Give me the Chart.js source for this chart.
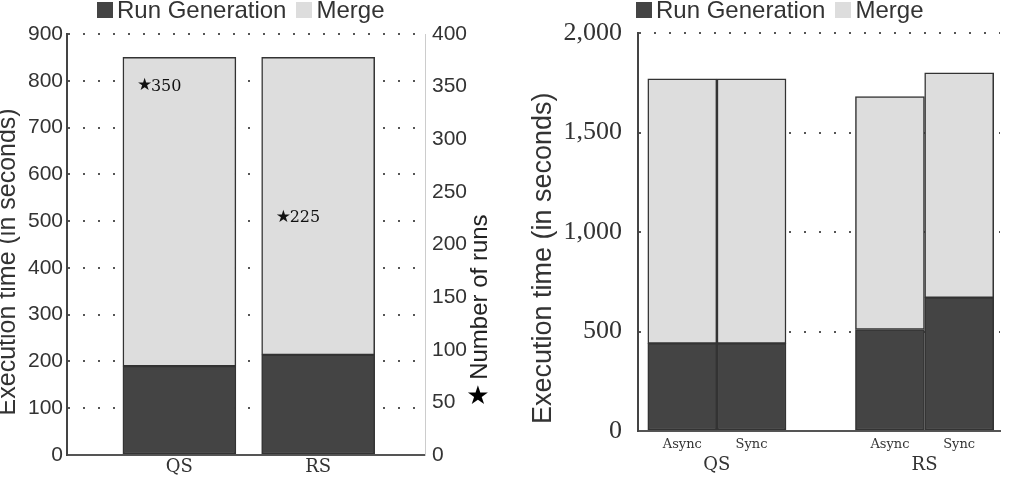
<!DOCTYPE html>
<html>
<head>
<meta charset="utf-8">
<script src="https://cdn.jsdelivr.net/npm/chart.js@4.4.1/dist/chart.umd.min.js"></script>
<style>
  html, body { margin: 0; padding: 0; background: #fff; }
  body { width: 1009px; height: 498px; position: relative; overflow: hidden; }
  canvas { position: absolute; top: 0; }
  #chartL { left: 0; }
  #chartR { left: 505px; }
  .legend { position: absolute; top: -2px; font: 24px "Liberation Sans", Arial, sans-serif; line-height: 24px; color: #333; white-space: nowrap; }
  .legend .item { margin-right: 10px; }
  .legend .box { display: inline-block; width: 16px; height: 16px; margin-right: 4px; }
</style>
</head>
<body>
<canvas id="chartL" width="505" height="498"></canvas>
<canvas id="chartR" width="504" height="498"></canvas>
<div class="legend" id="legendL" style="left:97px"></div>
<div class="legend" id="legendR" style="left:636px"></div>
<script>
// left chart: QS vs RS, plus number of runs on the right axis
const labelsL = ['QS', 'RS'];
const runGenL = [190, 214];
const mergeL = [660, 636];
const runsL = [350, 225];

// right chart: Async / Sync inside each algorithm
const groupsR = ['QS', 'RS'];
const modesR = ['Async', 'Sync'];
const runGenR = [440, 440, 510, 670];
const mergeR = [1330, 1330, 1170, 1130];

const SERIF = '"DejaVu Serif", serif';
const SANS = '"Liberation Sans", Arial, sans-serif';
const TIMES = '"Liberation Serif", "Times New Roman", serif';
const DARK = '#444444';
const LIGHT = '#dddddd';
const EDGE = '#333333';

function fixWidth(w) { return scale => { scale.width = w; }; }
function fixHeight(h) { return scale => { scale.height = h; }; }

function buildLegend(chart, id) {
    const el = document.getElementById(id);
    chart.data.datasets.filter(d => d.type !== 'line').forEach(d => {
        const item = document.createElement('span');
        item.className = 'item';
        const box = document.createElement('span');
        box.className = 'box';
        box.style.background = d.backgroundColor;
        item.appendChild(box);
        item.appendChild(document.createTextNode(d.label));
        el.appendChild(item);
    });
}

// "★350" labels, drawn next to each runs point
const starLabels = {
    id: 'starLabels',
    afterDatasetsDraw(chart) {
        const meta = chart.getDatasetMeta(2);
        const ctx = chart.ctx;
        ctx.save();
        ctx.fillStyle = '#111';
        ctx.textAlign = 'left';
        ctx.textBaseline = 'middle';
        meta.data.forEach((pt, i) => {
            const x = pt.x - barL / 2 + 14;
            ctx.font = '17px "DejaVu Sans"';
            ctx.fillText('★', x, pt.y - 1);
            ctx.font = '16px ' + SERIF;
            ctx.fillText(String(runsL[i]), x + 14, pt.y);
        });
        ctx.restore();
    }
};

// right axis title reads bottom-to-top, with the star key under it
const runsTitle = {
    id: 'runsTitle',
    afterDraw(chart) {
        const s = chart.scales.y2;
        const a = chart.chartArea;
        const ctx = chart.ctx;
        ctx.save();
        ctx.fillStyle = '#222';
        ctx.textAlign = 'center';
        ctx.textBaseline = 'middle';
        ctx.translate(s.left + 55, a.top + a.height * 0.625);
        ctx.rotate(-Math.PI / 2);
        ctx.font = '24px ' + SANS;
        ctx.fillText('Number of runs', 0, 0);
        ctx.restore();
        ctx.save();
        ctx.fillStyle = '#000';
        ctx.textAlign = 'center';
        ctx.textBaseline = 'middle';
        ctx.font = '26px "DejaVu Sans"';
        ctx.fillText('★', s.left + 53, a.top + a.height * 0.862);
        ctx.restore();
    }
};

const barL = 113;
const barR = 69;

const leftChart = new Chart(document.getElementById('chartL'), {
    type: 'bar',
    data: {
        datasets: [
            { label: 'Run Generation', data: runGenL.map((v, i) => ({ x: i, y: v })), backgroundColor: DARK, borderColor: EDGE, borderWidth: 1.5, borderSkipped: false, barThickness: barL, stack: 'time' },
            { label: 'Merge', data: mergeL.map((v, i) => ({ x: i, y: v })), backgroundColor: LIGHT, borderColor: EDGE, borderWidth: 1.5, borderSkipped: false, barThickness: barL, stack: 'time' },
            { type: 'line', label: 'Number of runs', data: runsL.map((v, i) => ({ x: i, y: v })), yAxisID: 'y2', showLine: false, pointRadius: 0 }
        ]
    },
    options: {
        responsive: false,
        animation: false,
        layout: { padding: { top: 34, left: 0, right: 0, bottom: 0 } },
        plugins: { legend: { display: false }, tooltip: { enabled: false } },
        scales: {
            x: {
                type: 'linear', min: -0.81, max: 1.77, offset: false, stacked: true,
                afterBuildTicks: s => { s.ticks = labelsL.map((_, i) => ({ value: i })); },
                ticks: { callback: (v, i) => labelsL[i], font: { family: SERIF, size: 18 }, color: '#333', padding: 2, maxRotation: 0, autoSkip: false },
                grid: { display: false, drawTicks: false, offset: false },
                border: { color: '#555', width: 2 },
                afterFit: fixHeight(43)
            },
            y: {
                stacked: true, min: 0, max: 900,
                ticks: { stepSize: 100, font: { family: SANS, size: 21 }, color: '#333', padding: 4 },
                grid: { color: '#555', lineWidth: 2, drawTicks: false },
                border: { color: '#444', width: 2, dash: [2, 13] },
                title: { display: true, text: 'Execution time (in seconds)     ', font: { family: SANS, size: 25, lineHeight: 1 }, color: '#333', padding: { top: -4, bottom: 0 } },
                afterFit: fixWidth(67)
            },
            y2: {
                position: 'right', min: 0, max: 400,
                ticks: { stepSize: 50, font: { family: SANS, size: 21 }, color: '#333', padding: 7 },
                grid: { display: false, drawTicks: false },
                border: { color: '#cccccc', width: 1 },
                afterFit: fixWidth(80)
            }
        }
    },
    plugins: [starLabels, runsTitle]
});

// bar k sits in group floor(k/2); one empty slot between groups
const posR = runGenR.map((_, k) => Math.floor(k / 2) * 3 + k % 2);

const rightChart = new Chart(document.getElementById('chartR'), {
    type: 'bar',
    data: {
        datasets: [
            { label: 'Run Generation', data: runGenR.map((v, k) => ({ x: posR[k], y: v })), backgroundColor: DARK, borderColor: EDGE, borderWidth: 1.5, borderSkipped: false, barThickness: barR, stack: 'time' },
            { label: 'Merge', data: mergeR.map((v, k) => ({ x: posR[k], y: v })), backgroundColor: LIGHT, borderColor: EDGE, borderWidth: 1.5, borderSkipped: false, barThickness: barR, stack: 'time' }
        ]
    },
    options: {
        responsive: false,
        animation: false,
        layout: { padding: { top: 33, left: 0, right: 9, bottom: 0 } },
        plugins: { legend: { display: false }, tooltip: { enabled: false } },
        scales: {
            x: {
                type: 'linear', min: -0.64, max: 4.59, offset: false, stacked: true, weight: 0,
                afterBuildTicks: s => { s.ticks = posR.map(p => ({ value: p })); },
                ticks: { callback: (v, i) => modesR[i % 2], font: { family: SERIF, size: 13 }, color: '#333', padding: 6, maxRotation: 0, autoSkip: false },
                grid: { display: false, drawTicks: false, offset: false },
                border: { color: '#555', width: 2 },
                afterFit: fixHeight(22)
            },
            x2: {
                type: 'linear', position: 'bottom', min: -0.64, max: 4.59, offset: false, weight: 1,
                afterBuildTicks: s => { s.ticks = groupsR.map((_, g) => ({ value: g * 3 + 0.5 })); },
                ticks: { callback: (v, i) => groupsR[i], font: { family: SERIF, size: 18 }, color: '#333', padding: 2, maxRotation: 0, autoSkip: false },
                grid: { display: false, drawTicks: false, offset: false },
                border: { display: false },
                afterFit: fixHeight(45)
            },
            y: {
                stacked: true, min: 0, max: 2000,
                ticks: { stepSize: 500, callback: v => v.toLocaleString('en-US'), font: { family: TIMES, size: 26 }, color: '#333', padding: 16 },
                grid: { color: '#555', lineWidth: 2, drawTicks: false },
                border: { color: '#444', width: 2, dash: [2, 13] },
                title: { display: true, text: 'Execution time (in seconds)       ', font: { family: SANS, size: 27, lineHeight: 1 }, color: '#333', padding: { top: 25, bottom: 0 } },
                afterFit: fixWidth(133)
            }
        }
    }
});

buildLegend(leftChart, 'legendL');
buildLegend(rightChart, 'legendR');
</script>
</body>
</html>
